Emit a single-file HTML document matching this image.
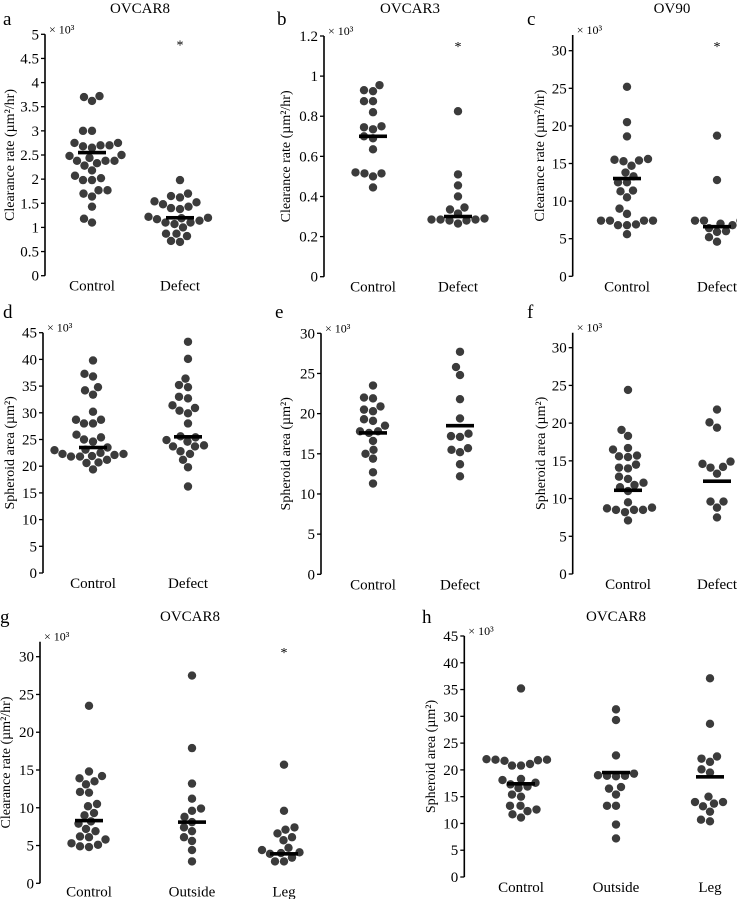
<!DOCTYPE html>
<html><head><meta charset="utf-8"><style>
html,body{margin:0;padding:0;background:#fff}
svg{display:block;font-family:"Liberation Serif",serif}
</style></head><body>
<svg id="fig" width="737" height="899" viewBox="0 0 737 899"></svg>
<script>
const aCats=["Control","Defect"];
const aControl=[3.7,3.62,3.72,3.0,3.0,2.75,2.7,2.65,2.68,2.7,2.75,2.44,2.5,2.48,2.38,2.33,2.38,2.38,2.28,2.18,2.07,1.98,1.98,2.02,1.7,1.77,1.77,1.64,1.43,1.18,1.1];
const aDefect=[1.98,1.65,1.62,1.7,1.54,1.48,1.52,1.4,1.38,1.43,1.19,1.14,1.07,1.2,1.22,1.1,1.17,1.0,1.1,0.87,0.82,0.87,0.72,0.7];
const aMedians=[2.55,1.2];
const aTicks=[0,0.5,1,1.5,2,2.5,3,3.5,4,4.5,5];
const bControl=[0.93,0.925,0.955,0.875,0.875,0.82,0.745,0.735,0.75,0.7,0.69,0.635,0.52,0.515,0.5,0.515,0.445];
const bDefect=[0.825,0.51,0.455,0.4,0.335,0.345,0.315,0.285,0.285,0.29,0.28,0.265,0.28,0.285];
const bMedians=[0.7,0.3];
const bTicks=[0,0.2,0.4,0.6,0.8,1,1.2];
const cControl=[25.2,20.5,18.6,15.6,15.4,15.5,14.7,15.3,13.8,13.3,12.5,12.5,11.4,11.3,10.5,9,8.3,7.4,7.4,7.4,7.4,6.8,6.8,6.9,5.6];
const cDefect=[18.7,12.8,7.4,7.4,7.4,7,6.8,6.4,6.0,5.9,5.2,4.6];
const cMedians=[13,6.6];
const cTicks=[0,5,10,15,20,25,30];
const dControl=[39.8,37.3,36.8,34.2,34.8,33.4,30.2,28.7,28.7,28,28,25.9,25.4,25,24.6,23.5,23.1,23,22.5,22.3,22.3,22.1,21.8,21.8,21.9,21.2,20.6,20.7,19.4];
const dDefect=[43.3,40.1,36.4,35.2,34.8,33,32.7,31.4,30.9,30.4,29.9,28,25.4,25.6,24.9,24.6,23.9,23.7,23.7,22.8,22.3,21.2,19.8,16.2];
const dMedians=[23.5,25.5];
const dTicks=[0,5,10,15,20,25,30,35,40,45];
const eControl=[23.5,22,21.9,20.9,20.5,20.3,19.3,19.1,18.5,17.8,17.8,17.6,16.6,15.5,15,14.4,12.7,11.3];
const eDefect=[27.7,25.8,24.8,21.8,19.4,17.5,17.2,17.1,15.7,15.5,15.2,13.7,12.2];
const eMedians=[17.6,18.5];
const eTicks=[0,5,10,15,20,25,30];
const fControl=[24.4,19.1,18.3,16.7,16.5,15.6,15.5,15.7,14.1,14.0,14.5,12.9,12.6,12.1,11.8,11.5,11.0,9.5,8.7,8.5,8.5,8.5,8.8,8.2,7.1];
const fDefect=[21.8,20.1,19.4,14.9,14.6,14.2,14.1,13.3,9.6,9.6,8.8,7.5];
const fMedians=[11.1,12.3];
const fTicks=[0,5,10,15,20,25,30];
const gCats=["Control","Outside","Leg"];
const gControl=[23.5,14.8,14.2,13.9,13.5,13.1,12.1,12.0,10.5,10.2,9.3,9.0,8.2,7.9,7.2,6.9,6.2,6.1,5.8,5.3,5.1,4.9,4.8];
const gOutside=[27.5,17.9,13.2,11.2,9.9,9.6,8.8,8.1,7.4,6.9,6.1,5.6,4.4,2.9];
const gLeg=[15.7,9.6,7.4,7.1,6.6,6.1,5.7,4.7,4.4,4.1,4.0,3.9,3.4,2.9,2.9];
const gMedians=[8.3,8.1,3.9];
const gTicks=[0,5,10,15,20,25,30];
const hControl=[35.2,21.9,21.9,22,21.7,21.1,21.8,20.8,20.8,18.1,18.3,17.6,17.3,16.9,16.6,15.4,15,13.3,13.3,12.6,12.3,11.7,11.1];
const hOutside=[31.3,29.3,22.7,19.3,19,18.9,18.8,18.9,16.8,16.5,15.4,13.3,13.3,9.8,7.2];
const hLeg=[37.1,28.6,22.5,22.1,21.5,20.1,19.5,15,14,14,13.7,13.2,12.2,10.7,10.4];
const hMedians=[17.4,19.5,18.7];
const hTicks=[0,5,10,15,20,25,30,35,40,45];

const NS="http://www.w3.org/2000/svg";
const svg=document.getElementById('fig');
function mk(tag,attrs,parent,text){const e=document.createElementNS(NS,tag);for(const k in attrs)e.setAttribute(k,attrs[k]);if(text!==undefined)e.textContent=text;(parent||svg).appendChild(e);return e;}
const CR="Clearance rate (\u00b5m\u00b2/hr)", SA="Spheroid area (\u00b5m\u00b2)";
const R=4.2;
function swarm(vals,yf){
  const ys=vals.map(yf).slice().sort((a,b)=>b-a);const placed=[];const out=[];
  ys.forEach(y=>{
    let best=0;
    for(let s=0;s<80;s+=0.5){
      let found=null;
      for(const dx of (s===0?[0]:[-s,s])){
        if(placed.every(p=>Math.hypot(p[0]-dx,p[1]-y)>=2*R+0.4)){found=dx;break;}
      }
      if(found!==null){best=found;break;}
    }
    placed.push([best,y]);out.push([best,y]);
  });
  return out;
}
function panel(o){
  const g=mk('g',{});
  
  
  const y=v=>o.y0-(v/o.tmax)*(o.y0-o.ytop);
  const lt=mk('text',{x:o.lx,y:o.ly,'font-size':19},g,o.id);
  
  if(o.title){const t=mk('text',{x:o.tx,y:o.ty,'font-size':15,'text-anchor':'middle'},g,o.title);
    }
  const top=o.axTop!==undefined?o.axTop:y(o.ticks[o.ticks.length-1]);
  const ax=mk('line',{x1:o.ax,x2:o.ax,y1:top,y2:o.y0,stroke:'#000','stroke-width':1.6},g);
  
  o.ticks.forEach(t=>{
    mk('line',{x1:o.ax-4,x2:o.ax,y1:y(t),y2:y(t),stroke:'#000','stroke-width':1.3},g);
    const tl=mk('text',{x:o.ax-6,y:y(t)+5,'font-size':15,'text-anchor':'end'},g,String(t));
    
  });
  const mult=mk('text',{x:o.ax+4,y:top-1,'font-size':12},g,'\u00d7 10\u00b3');
  
  const yc=(top+o.y0)/2;
  const yt=mk('text',{x:o.yx,y:yc,'font-size':14,'text-anchor':'middle',transform:`rotate(-90 ${o.yx} ${yc})`},g,o.ytitle);
  
  o.series.forEach((vals,i)=>{
    const cx=o.cx[i];
    const cl=mk('text',{x:cx,y:o.y0+(o.lblOff||15),'font-size':15,'text-anchor':'middle'},g,o.cats[i]);
    
    swarm(vals,y).forEach(p=>{
      const c=mk('circle',{cx:cx+p[0],cy:p[1],r:R,fill:'#3b3b3b'},g);
      
      
    });
    const m=mk('rect',{x:cx-14,y:y(o.medians[i])-1.8,width:28,height:3.6,fill:'#000'},g);
    
  });
  if(o.star){const s=mk('text',{x:o.cx[o.star[0]],y:y(o.star[1])+8,'font-size':14,'text-anchor':'middle'},g,'*');
    }
}
panel({id:'a',title:'OVCAR8',tx:140,ty:13,lx:3,ly:25,ax:45,y0:275.7,ytop:34.3,tmax:5,ticks:aTicks,yx:14,ytitle:CR,cats:aCats,cx:[92,180],series:[aControl,aDefect],medians:aMedians,star:[1,4.85]});
panel({id:'b',title:'OVCAR3',tx:410,ty:13,lx:277,ly:25,ax:324,y0:276.7,ytop:36,tmax:1.2,ticks:bTicks,yx:290,ytitle:CR,cats:aCats,cx:[373,458],series:[bControl,bDefect],medians:bMedians,star:[1,1.165]});
panel({id:'c',title:'OV90',tx:672,ty:13,lx:527,ly:25,ax:572.7,y0:276.3,ytop:50.7,tmax:30,ticks:cTicks,axTop:35,yx:544,ytitle:CR,cats:aCats,cx:[627,717],series:[cControl,cDefect],medians:cMedians,star:[1,31]});
panel({id:'d',lx:3,ly:318,ax:43,y0:573,ytop:332.7,tmax:45,ticks:dTicks,yx:14,ytitle:SA,cats:aCats,cx:[93,188],series:[dControl,dDefect],medians:dMedians});
panel({id:'e',lx:275,ly:318,ax:321,y0:574.3,ytop:333.3,tmax:30,ticks:eTicks,yx:290,ytitle:SA,cats:aCats,cx:[373,460],series:[eControl,eDefect],medians:eMedians});
panel({id:'f',lx:527,ly:318,ax:572.7,y0:574,ytop:347.7,tmax:30,ticks:fTicks,axTop:332.7,yx:545,ytitle:SA,cats:aCats,cx:[628,717],series:[fControl,fDefect],medians:fMedians});
panel({id:'g',title:'OVCAR8',tx:190,ty:621,lx:0,ly:623,ax:40,y0:883.3,ytop:656.7,tmax:30,ticks:gTicks,axTop:641.7,yx:10,ytitle:CR,cats:gCats,cx:[89,192,284],series:[gControl,gOutside,gLeg],medians:gMedians,star:[2,31],lblOff:13});
panel({id:'h',title:'OVCAR8',tx:616,ty:621,lx:422,ly:623,ax:464.3,y0:877,ytop:636,tmax:45,ticks:hTicks,yx:435,ytitle:SA,cats:gCats,cx:[521,616,710],series:[hControl,hOutside,hLeg],medians:hMedians});
</script>
</body></html>
